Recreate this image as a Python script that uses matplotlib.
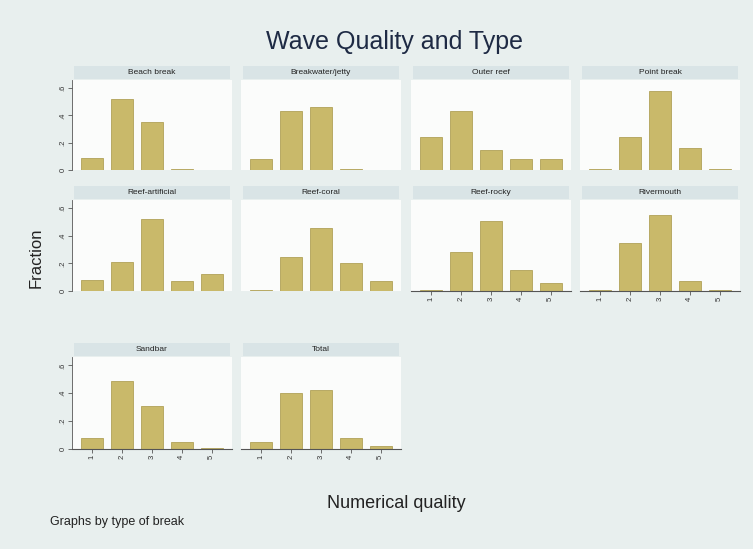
import matplotlib
matplotlib.use("Agg")
import matplotlib.pyplot as plt
import numpy as np

plt.rcParams['font.family'] = ['Liberation Sans', 'DejaVu Sans']

title = "Wave Quality and Type"
panel_titles = ["Beach break", "Breakwater/jetty", "Outer reef", "Point break",
                "Reef-artificial", "Reef-coral", "Reef-rocky", "Rivermouth",
                "Sandbar", "Total"]
categories = [1, 2, 3, 4, 5]
xtick_labels = ["1", "2", "3", "4", "5"]
ytick_vals = [0, 0.2, 0.4, 0.6]
ytick_labels = ["0", ".2", ".4", ".6"]

beach_break = [0.09, 0.52, 0.35, 0.01, 0.0]
breakwater = [0.08, 0.43, 0.46, 0.01, 0.0]
outer_reef = [0.24, 0.43, 0.15, 0.08, 0.08]
point_break = [0.01, 0.24, 0.58, 0.16, 0.01]
reef_artificial = [0.08, 0.21, 0.52, 0.07, 0.12]
reef_coral = [0.01, 0.25, 0.46, 0.20, 0.07]
reef_rocky = [0.01, 0.28, 0.51, 0.15, 0.06]
rivermouth = [0.01, 0.35, 0.55, 0.07, 0.01]
sandbar = [0.08, 0.49, 0.31, 0.05, 0.01]
total = [0.05, 0.40, 0.42, 0.08, 0.02]
series = [beach_break, breakwater, outer_reef, point_break, reef_artificial,
          reef_coral, reef_rocky, rivermouth, sandbar, total]

W, H = 753, 549
fig = plt.figure(figsize=(W / 100, H / 100), dpi=100)
fig.patch.set_facecolor("#e8efee")

col_left = [72, 241, 411, 580]
col_w = 160
rows = [(80, 170), (200, 291), (357, 449)]
strip_h = 13
bottom_panels = {6, 7, 8, 9}

bar_color = "#c9b96a"
edge_color = "#b0a158"

for i, vals in enumerate(series):
    r, c = divmod(i, 4)
    top, bot = rows[r]
    x0 = col_left[c]
    ax = fig.add_axes([x0 / W, 1 - bot / H, col_w / W, (bot - top) / H])
    ax.set_facecolor("#fbfcfb")
    ax.bar(categories, vals, width=0.75, color=bar_color, edgecolor=edge_color, linewidth=0.6)
    ax.set_xlim(0.32, 5.68)
    ax.set_ylim(0, 0.66)
    for s in ax.spines.values():
        s.set_visible(False)
    if c == 0:
        ax.spines['left'].set_visible(True)
        ax.spines['left'].set_color("#555555")
        ax.spines['left'].set_linewidth(0.6)
        ax.set_yticks(ytick_vals)
        ax.set_yticklabels(ytick_labels, rotation=90, fontsize=5.5, va='center', color="#333333")
        ax.tick_params(axis='y', length=3, width=0.6, color="#555555", pad=1)
    else:
        ax.set_yticks([])
    if i in bottom_panels:
        ax.spines['bottom'].set_visible(True)
        ax.spines['bottom'].set_color("#555555")
        ax.spines['bottom'].set_linewidth(0.8)
        ax.set_xticks(categories)
        ax.set_xticklabels(xtick_labels, rotation=90, fontsize=5.5, color="#333333")
        ax.tick_params(axis='x', length=3, width=0.6, color="#555555", pad=1)
    else:
        ax.set_xticks([])
    # title strip
    sax = fig.add_axes([(x0 + 2) / W, 1 - (top - 1) / H, (col_w - 4) / W, strip_h / H])
    sax.set_facecolor("#d9e4e6")
    sax.set_xticks([]); sax.set_yticks([])
    for s in sax.spines.values():
        s.set_visible(False)
    sax.text(0.5, 0.5, panel_titles[i], ha='center', va='center', fontsize=6, color="#222222",
             transform=sax.transAxes)

fig.text(395 / W, 1 - 42 / H, title, ha='center', va='center', fontsize=18, color="#1e2a44")
fig.text(36 / W, 1 - 258 / H, "Fraction", ha='center', va='center', rotation=90, fontsize=12, color="#222222")
fig.text(396 / W, 1 - 503 / H, "Numerical quality", ha='center', va='center', fontsize=13, color="#222222")
fig.text(50 / W, 1 - 522 / H, "Graphs by type of break", ha='left', va='center', fontsize=9, color="#222222")

fig.savefig("out.png", dpi=100, facecolor=fig.get_facecolor())
